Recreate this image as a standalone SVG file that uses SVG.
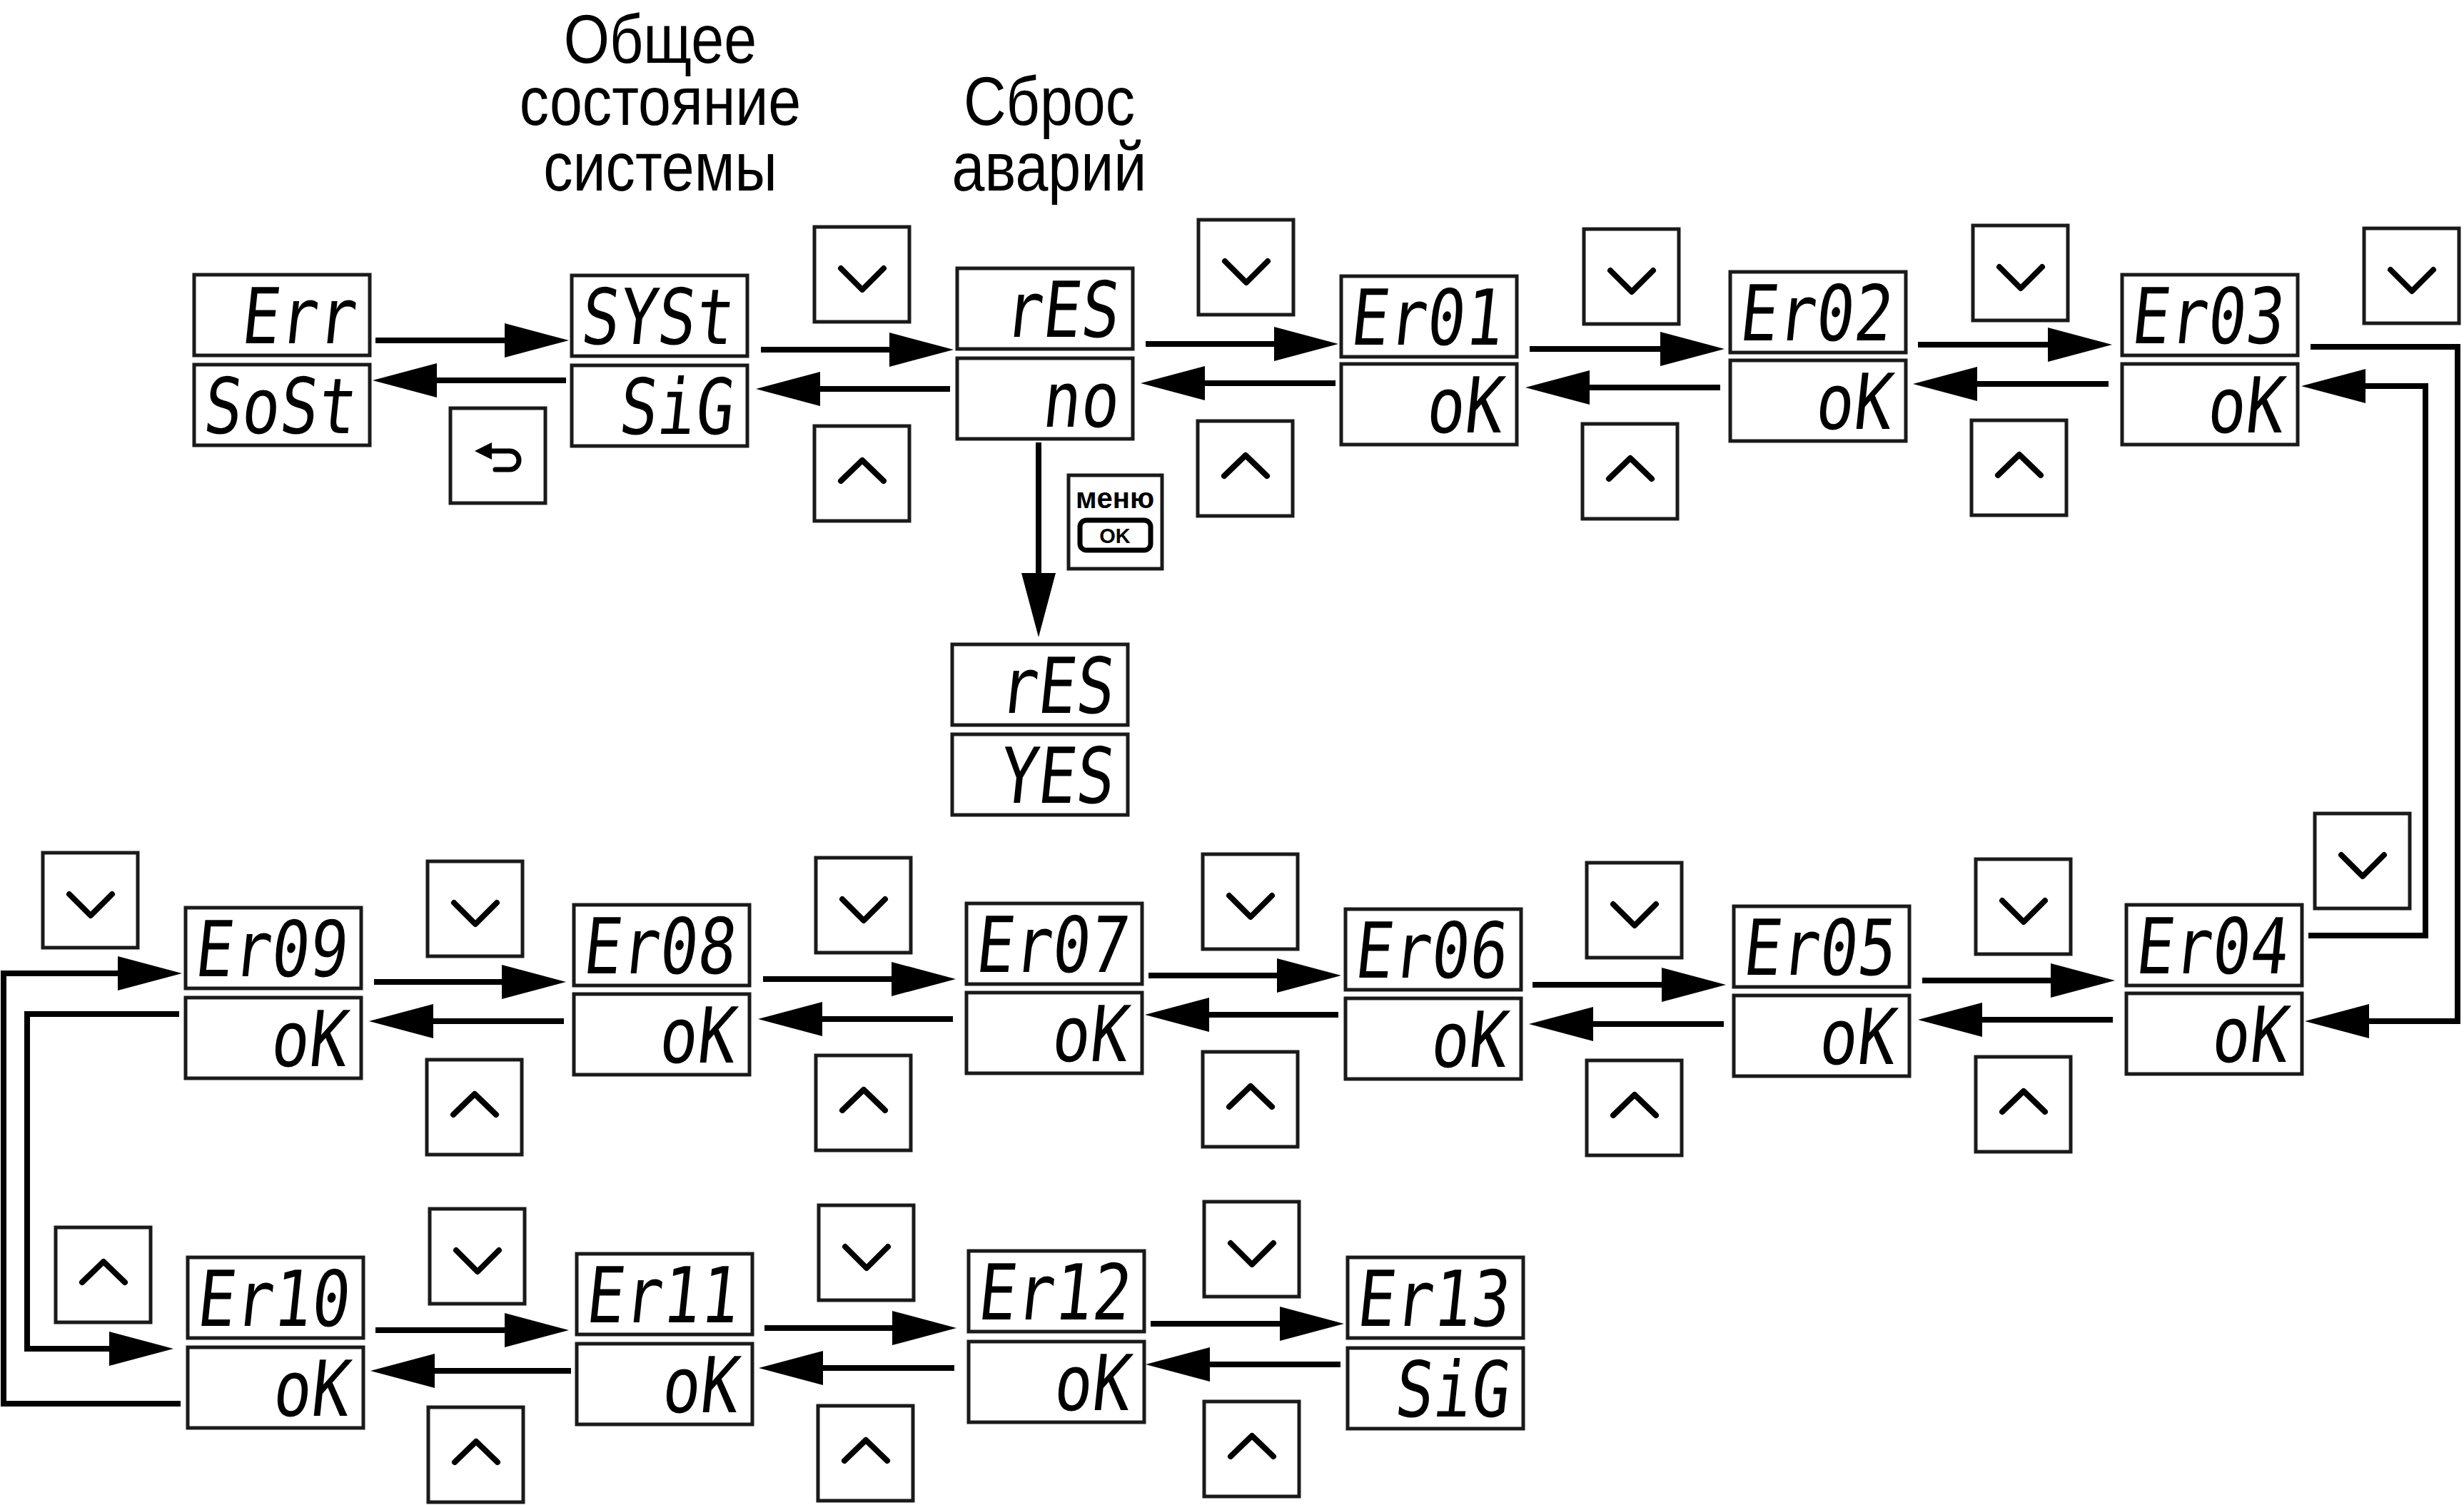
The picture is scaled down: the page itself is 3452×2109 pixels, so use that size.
<svg xmlns="http://www.w3.org/2000/svg" xmlns:xlink="http://www.w3.org/1999/xlink" width="3452" height="2109" viewBox="0 0 3452 2109">
<style>
.box{fill:#fff;stroke:#1a1a1a;stroke-width:5}
.btn{fill:#fff;stroke:#1a1a1a;stroke-width:5}
.chev{fill:none;stroke:#000;stroke-width:8;stroke-linecap:round;stroke-linejoin:round}
.seg{font-family:"DejaVu Sans Mono","Liberation Mono",monospace;font-size:108px;fill:#000;text-anchor:end}
.title{font-family:"Liberation Sans",Arial,sans-serif;font-size:96px;fill:#000;text-anchor:middle}
.conn{fill:none;stroke:#000;stroke-width:8;marker-end:url(#ah)}
.lbl{font-family:"Liberation Sans",Arial,sans-serif;font-weight:bold;fill:#000;text-anchor:middle}
</style>
<defs>
<marker id="ah" markerUnits="userSpaceOnUse" viewBox="0 0 90 48" markerWidth="90" markerHeight="48" refX="1" refY="24" orient="auto">
<path d="M0,0 L90,24 L0,48 z" fill="#000"/>
</marker>
<g id="bdown"><rect class="btn" x="0" y="0" width="133" height="133"/><polyline class="chev" points="37,58 67,88 97,58"/></g>
<g id="bup"><rect class="btn" x="0" y="0" width="133" height="133"/><polyline class="chev" points="37,77 67,48 97,77"/></g>
</defs>
<rect x="0" y="0" width="3452" height="2109" fill="#fff"/>

<g id="titles">
<g transform="translate(925,0) scale(0.86,1)">
<text class="title"><tspan x="0" y="88">Общее</tspan><tspan x="0" y="175">состояние</tspan><tspan x="0" y="267">системы</tspan></text>
</g>
<g transform="translate(1470,0) scale(0.86,1)">
<text class="title"><tspan x="0" y="175">Сброс</tspan><tspan x="0" y="267">аварий</tspan></text>
</g>
</g>

<g id="connectors">
<path class="conn" d="M526,477 H708"/>
<path class="conn" d="M793,533 H611"/>
<path class="conn" d="M1066,490 H1247"/>
<path class="conn" d="M1331,545 H1148"/>
<path class="conn" d="M1605,482 H1786"/>
<path class="conn" d="M1871,537 H1687"/>
<path class="conn" d="M2143,489 H2327"/>
<path class="conn" d="M2410,543 H2226"/>
<path class="conn" d="M2687,483 H2870"/>
<path class="conn" d="M2954,538 H2769"/>
<path class="conn" d="M3237,486 H3443 V1431 H3318"/>
<path class="conn" d="M3234,1311 H3398 V541 H3313"/>
<path class="conn" d="M1455,620 V804"/>
<path class="conn" d="M524,1376 H704"/>
<path class="conn" d="M790,1431 H606"/>
<path class="conn" d="M1069,1372 H1250"/>
<path class="conn" d="M1335,1428 H1151"/>
<path class="conn" d="M1609,1367 H1790"/>
<path class="conn" d="M1875,1422 H1693"/>
<path class="conn" d="M2147,1380 H2329"/>
<path class="conn" d="M2415,1435 H2231"/>
<path class="conn" d="M2693,1374 H2874"/>
<path class="conn" d="M2960,1429 H2776"/>
<path class="conn" d="M253,1967 H5 V1364 H166"/>
<path class="conn" d="M251,1421 H38 V1890 H154"/>
<path class="conn" d="M526,1864 H708"/>
<path class="conn" d="M800,1921 H608"/>
<path class="conn" d="M1071,1861 H1251"/>
<path class="conn" d="M1337,1917 H1152"/>
<path class="conn" d="M1612,1855 H1794"/>
<path class="conn" d="M1878,1912 H1694"/>
</g>

<g id="node-err"><rect class="box" x="272" y="385" width="246" height="113"/><rect class="box" x="272" y="511" width="246" height="113"/>
<text class="seg" transform="translate(496,481) skewX(-6) scale(0.82,1)">Err</text>
<text class="seg" transform="translate(496,607) skewX(-6) scale(0.82,1)">SoSt</text></g>
<g id="node-syst"><rect class="box" x="801" y="386" width="246" height="113"/><rect class="box" x="801" y="512" width="246" height="113"/>
<text class="seg" transform="translate(1025,482) skewX(-6) scale(0.82,1)">SYSt</text>
<text class="seg" transform="translate(1025,608) skewX(-6) scale(0.82,1)">SiG</text></g>
<g id="node-res"><rect class="box" x="1341" y="376" width="246" height="113"/><rect class="box" x="1341" y="502" width="246" height="113"/>
<text class="seg" transform="translate(1565,472) skewX(-6) scale(0.82,1)">rES</text>
<text class="seg" transform="translate(1565,598) skewX(-6) scale(0.82,1)">no</text></g>
<g id="node-er01"><rect class="box" x="1879" y="387" width="246" height="113"/><rect class="box" x="1879" y="510" width="246" height="113"/>
<text class="seg" transform="translate(2103,483) skewX(-6) scale(0.82,1)">Er01</text>
<text class="seg" transform="translate(2103,606) skewX(-6) scale(0.82,1)">oK</text></g>
<g id="node-er02"><rect class="box" x="2424" y="381" width="246" height="113"/><rect class="box" x="2424" y="505" width="246" height="113"/>
<text class="seg" transform="translate(2648,477) skewX(-6) scale(0.82,1)">Er02</text>
<text class="seg" transform="translate(2648,601) skewX(-6) scale(0.82,1)">oK</text></g>
<g id="node-er03"><rect class="box" x="2973" y="385" width="246" height="113"/><rect class="box" x="2973" y="510" width="246" height="113"/>
<text class="seg" transform="translate(3197,481) skewX(-6) scale(0.82,1)">Er03</text>
<text class="seg" transform="translate(3197,606) skewX(-6) scale(0.82,1)">oK</text></g>
<g id="node-res-yes"><rect class="box" x="1334" y="903" width="246" height="113"/><rect class="box" x="1334" y="1029" width="246" height="113"/>
<text class="seg" transform="translate(1558,999) skewX(-6) scale(0.82,1)">rES</text>
<text class="seg" transform="translate(1558,1125) skewX(-6) scale(0.82,1)">YES</text></g>
<g id="node-er09"><rect class="box" x="260" y="1272" width="246" height="113"/><rect class="box" x="260" y="1398" width="246" height="113"/>
<text class="seg" transform="translate(484,1368) skewX(-6) scale(0.82,1)">Er09</text>
<text class="seg" transform="translate(484,1494) skewX(-6) scale(0.82,1)">oK</text></g>
<g id="node-er08"><rect class="box" x="804" y="1268" width="246" height="113"/><rect class="box" x="804" y="1393" width="246" height="113"/>
<text class="seg" transform="translate(1028,1364) skewX(-6) scale(0.82,1)">Er08</text>
<text class="seg" transform="translate(1028,1489) skewX(-6) scale(0.82,1)">oK</text></g>
<g id="node-er07"><rect class="box" x="1354" y="1266" width="246" height="113"/><rect class="box" x="1354" y="1391" width="246" height="113"/>
<text class="seg" transform="translate(1578,1362) skewX(-6) scale(0.82,1)">Er07</text>
<text class="seg" transform="translate(1578,1487) skewX(-6) scale(0.82,1)">oK</text></g>
<g id="node-er06"><rect class="box" x="1885" y="1274" width="246" height="113"/><rect class="box" x="1885" y="1399" width="246" height="113"/>
<text class="seg" transform="translate(2109,1370) skewX(-6) scale(0.82,1)">Er06</text>
<text class="seg" transform="translate(2109,1495) skewX(-6) scale(0.82,1)">oK</text></g>
<g id="node-er05"><rect class="box" x="2429" y="1270" width="246" height="113"/><rect class="box" x="2429" y="1395" width="246" height="113"/>
<text class="seg" transform="translate(2653,1366) skewX(-6) scale(0.82,1)">Er05</text>
<text class="seg" transform="translate(2653,1491) skewX(-6) scale(0.82,1)">oK</text></g>
<g id="node-er04"><rect class="box" x="2979" y="1268" width="246" height="113"/><rect class="box" x="2979" y="1392" width="246" height="113"/>
<text class="seg" transform="translate(3203,1364) skewX(-6) scale(0.82,1)">Er04</text>
<text class="seg" transform="translate(3203,1488) skewX(-6) scale(0.82,1)">oK</text></g>
<g id="node-er10"><rect class="box" x="263" y="1762" width="246" height="113"/><rect class="box" x="263" y="1888" width="246" height="113"/>
<text class="seg" transform="translate(487,1858) skewX(-6) scale(0.82,1)">Er10</text>
<text class="seg" transform="translate(487,1984) skewX(-6) scale(0.82,1)">oK</text></g>
<g id="node-er11"><rect class="box" x="808" y="1757" width="246" height="113"/><rect class="box" x="808" y="1883" width="246" height="113"/>
<text class="seg" transform="translate(1032,1853) skewX(-6) scale(0.82,1)">Er11</text>
<text class="seg" transform="translate(1032,1979) skewX(-6) scale(0.82,1)">oK</text></g>
<g id="node-er12"><rect class="box" x="1357" y="1753" width="246" height="113"/><rect class="box" x="1357" y="1880" width="246" height="113"/>
<text class="seg" transform="translate(1581,1849) skewX(-6) scale(0.82,1)">Er12</text>
<text class="seg" transform="translate(1581,1976) skewX(-6) scale(0.82,1)">oK</text></g>
<g id="node-er13"><rect class="box" x="1888" y="1762" width="246" height="113"/><rect class="box" x="1888" y="1889" width="246" height="113"/>
<text class="seg" transform="translate(2112,1858) skewX(-6) scale(0.82,1)">Er13</text>
<text class="seg" transform="translate(2112,1985) skewX(-6) scale(0.82,1)">SiG</text></g>

<g id="btn-down-1"><use xlink:href="#bdown" x="1141" y="318"/></g>
<g id="btn-down-2"><use xlink:href="#bdown" x="1679" y="308"/></g>
<g id="btn-down-3"><use xlink:href="#bdown" x="2219" y="321"/></g>
<g id="btn-down-4"><use xlink:href="#bdown" x="2764" y="316"/></g>
<g id="btn-down-5"><use xlink:href="#bdown" x="3312" y="320"/></g>
<g id="btn-down-6"><use xlink:href="#bdown" x="60" y="1195"/></g>
<g id="btn-down-7"><use xlink:href="#bdown" x="599" y="1207"/></g>
<g id="btn-down-8"><use xlink:href="#bdown" x="1143" y="1202"/></g>
<g id="btn-down-9"><use xlink:href="#bdown" x="1685" y="1197"/></g>
<g id="btn-down-10"><use xlink:href="#bdown" x="2223" y="1209"/></g>
<g id="btn-down-11"><use xlink:href="#bdown" x="2768" y="1204"/></g>
<g id="btn-down-12"><use xlink:href="#bdown" x="3243" y="1140"/></g>
<g id="btn-down-13"><use xlink:href="#bdown" x="602" y="1694"/></g>
<g id="btn-down-14"><use xlink:href="#bdown" x="1147" y="1689"/></g>
<g id="btn-down-15"><use xlink:href="#bdown" x="1687" y="1684"/></g>

<g id="btn-up-1"><use xlink:href="#bup" x="1141" y="597"/></g>
<g id="btn-up-2"><use xlink:href="#bup" x="1678" y="590"/></g>
<g id="btn-up-3"><use xlink:href="#bup" x="2217" y="594"/></g>
<g id="btn-up-4"><use xlink:href="#bup" x="2762" y="589"/></g>
<g id="btn-up-5"><use xlink:href="#bup" x="598" y="1485"/></g>
<g id="btn-up-6"><use xlink:href="#bup" x="1143" y="1479"/></g>
<g id="btn-up-7"><use xlink:href="#bup" x="1685" y="1474"/></g>
<g id="btn-up-8"><use xlink:href="#bup" x="2223" y="1486"/></g>
<g id="btn-up-9"><use xlink:href="#bup" x="2768" y="1481"/></g>
<g id="btn-up-10"><use xlink:href="#bup" x="78" y="1720"/></g>
<g id="btn-up-11"><use xlink:href="#bup" x="600" y="1972"/></g>
<g id="btn-up-12"><use xlink:href="#bup" x="1146" y="1970"/></g>
<g id="btn-up-13"><use xlink:href="#bup" x="1687" y="1964"/></g>

<g id="btn-back">
<rect class="btn" x="631" y="572" width="133" height="133"/>
<path d="M687,632 H714 A13,13 0 0 1 714,658 H694" fill="none" stroke="#000" stroke-width="7" stroke-linecap="round"/>
<path d="M665,632 L689,620 L689,644 z" fill="#000"/>
</g>
<g id="btn-menu-ok">
<rect class="btn" x="1497" y="666" width="131" height="131"/>
<text class="lbl" x="1562" y="712" font-size="40">меню</text>
<rect x="1513" y="729" width="99" height="42" rx="9" fill="none" stroke="#000" stroke-width="7"/>
<text class="lbl" x="1562" y="761" font-size="29">OK</text>
</g>
</svg>
